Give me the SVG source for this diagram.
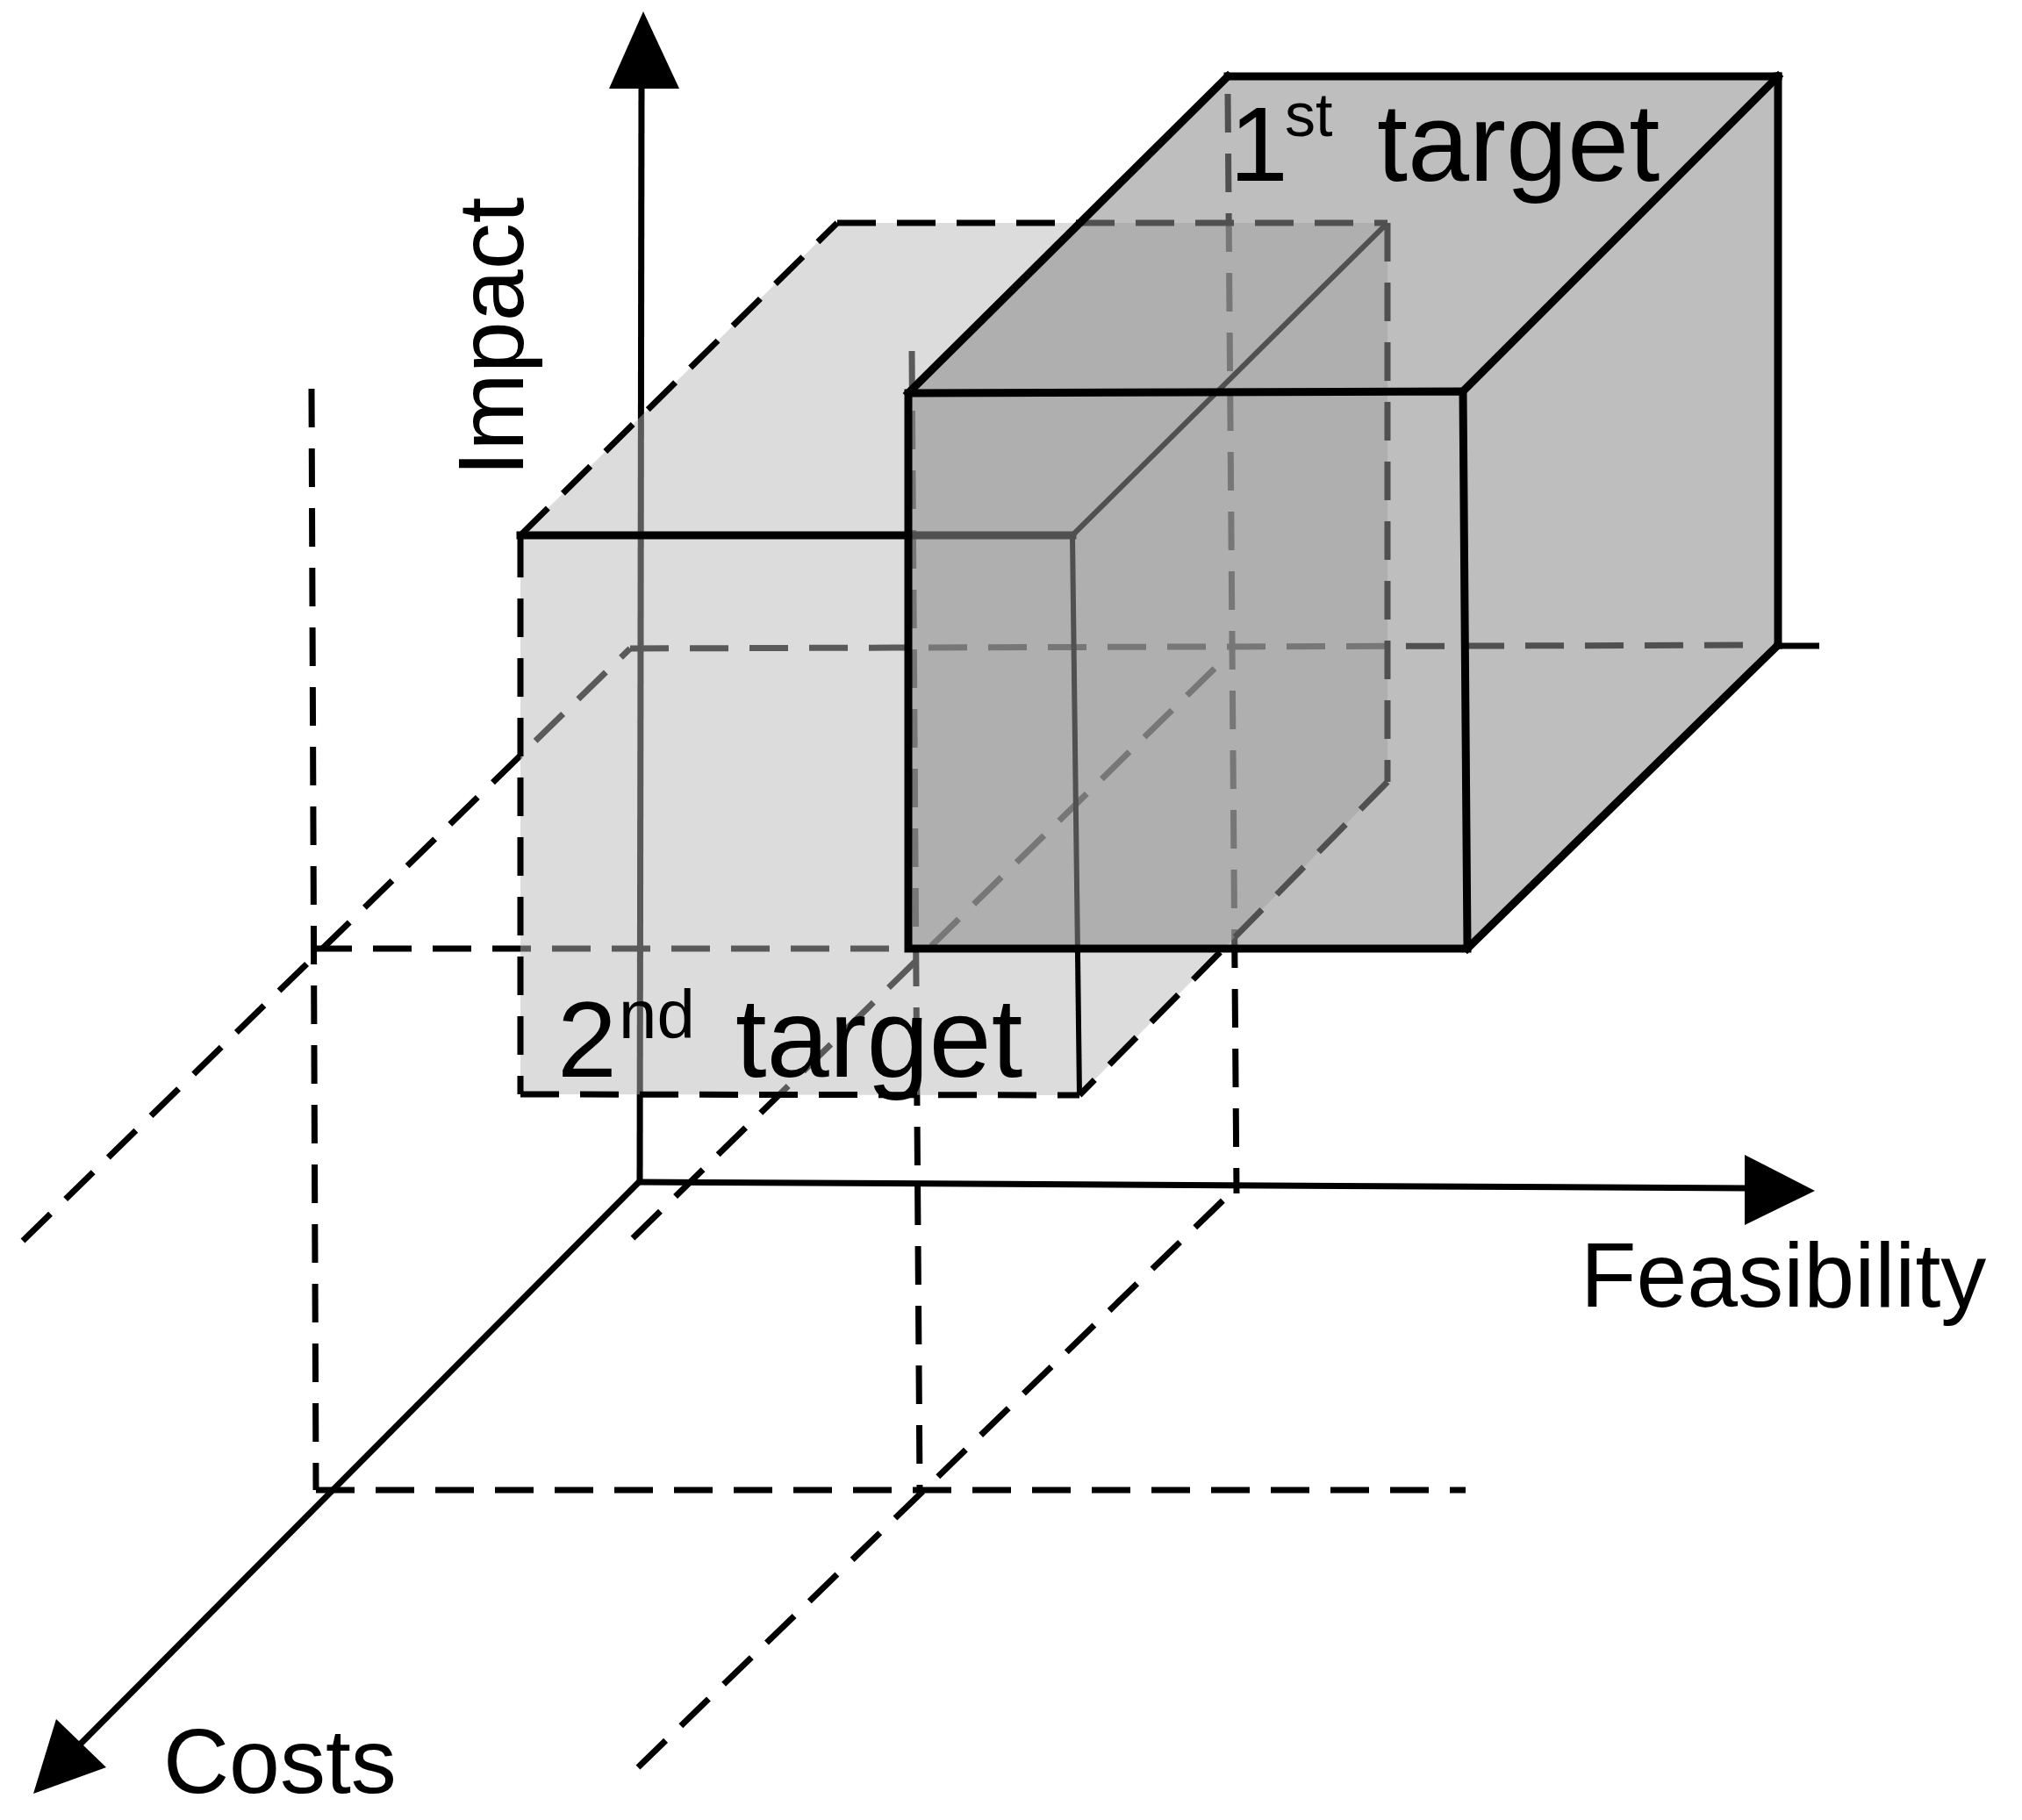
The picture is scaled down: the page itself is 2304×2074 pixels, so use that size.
<svg xmlns="http://www.w3.org/2000/svg" width="2304" height="2074" viewBox="0 0 2304 2074">
<style>
  .ax{stroke:#000;stroke-width:7;fill:none}
  .gd{stroke:#000;stroke-width:7;fill:none;stroke-dasharray:44 24}
  .edge{stroke:#000;stroke-width:9;fill:none;stroke-linejoin:miter;stroke-linecap:square}
  .thin{stroke:#000;stroke-width:6;fill:none}
  .dedge{stroke:#000;stroke-width:7;fill:none;stroke-dasharray:44 24}
  .lbl{font-family:"Liberation Sans",Arial,Helvetica,sans-serif;fill:#000}
  .head{fill:#000;stroke:none}
</style>
<rect width="2304" height="2074" fill="#fff"/>
<g id="connectors">
  <!-- guide lines -->
  <line class="gd" x1="355" y1="443" x2="360" y2="1698"/>
  <line class="gd" x1="357" y1="1081" x2="1037" y2="1081"/>
  <line class="gd" x1="360" y1="1698" x2="1670" y2="1698"/>
  <line class="gd" x1="26" y1="1414" x2="718" y2="739"/>
  <line class="gd" x1="721" y1="1411" x2="1398" y2="748"/>
  <line class="gd" x1="727" y1="2014" x2="1410" y2="1352"/>
  <line class="gd" x1="1039" y1="400" x2="1048" y2="1698"/>
  <line class="gd" x1="1399" y1="107" x2="1409" y2="1360"/>
  <line class="gd" x1="718" y1="739" x2="2010" y2="735"/>
  <line class="ax" x1="2021" y1="736" x2="2073" y2="736"/>
  <!-- axes -->
  <line class="ax" x1="729" y1="1350" x2="731" y2="96"/>
  <polygon class="head" points="733,13 694,101 774,101"/>
  <line class="ax" x1="726" y1="1347" x2="1992" y2="1354"/>
  <polygon class="head" points="2068,1357 1988,1316 1988,1396"/>
  <line class="ax" x1="729" y1="1346" x2="92" y2="1987"/>
  <polygon class="head" points="38,2044 64,1959 121,2014"/>
</g>
<g id="target2">
  <path d="M593,610 L954,254 L1581,254 L1581,891 L1230,1248 L593,1247 Z" fill="#b8b8b8" fill-opacity="0.49"/>
  <line class="edge" x1="593" y1="610" x2="1222" y2="610"/>
  <line class="dedge" x1="593" y1="614" x2="593" y2="1247"/>
  <line class="dedge" x1="593" y1="1247" x2="1230" y2="1248"/>
  <line class="thin" x1="1222" y1="610" x2="1230" y2="1248"/>
  <line class="dedge" x1="593" y1="610" x2="954" y2="254"/>
  <line class="dedge" x1="954" y1="254" x2="1581" y2="254"/>
  <line class="thin" x1="1222" y1="610" x2="1581" y2="254"/>
  <line class="dedge" x1="1581" y1="254" x2="1581" y2="891"/>
  <line class="dedge" x1="1581" y1="891" x2="1230" y2="1248"/>
</g>
<g id="target1">
  <path d="M1035,448 L1399,87 L2026,87 L2026,735 L1672,1081 L1035,1081 Z" fill="#8c8c8c" fill-opacity="0.57"/>
  <path class="edge" d="M1035,448 L1667,446 L1672,1081 L1035,1081 Z"/>
  <line class="edge" x1="1035" y1="448" x2="1399" y2="87"/>
  <line class="edge" x1="1399" y1="87" x2="2026" y2="87"/>
  <line class="edge" x1="1667" y1="446" x2="2026" y2="87"/>
  <line class="edge" x1="2026" y1="87" x2="2026" y2="735"/>
  <line class="edge" x1="2026" y1="735" x2="1672" y2="1081"/>
</g>
<g id="labels">
  <text class="lbl" x="1401" y="206" font-size="120">1</text>
  <text class="lbl" x="1464" y="155" font-size="70">st</text>
  <text class="lbl" x="1569" y="206" font-size="126">target</text>
  <text class="lbl" x="635" y="1227" font-size="122">2</text>
  <text class="lbl" x="705" y="1183" font-size="78">nd</text>
  <text class="lbl" x="838" y="1227" font-size="128">target</text>
  <text class="lbl" x="1801" y="1489" font-size="104">Feasibility</text>
  <text class="lbl" x="186" y="2043" font-size="104">Costs</text>
  <text class="lbl" font-size="106" transform="translate(596,543) rotate(-90)">Impact</text>
</g>
</svg>
